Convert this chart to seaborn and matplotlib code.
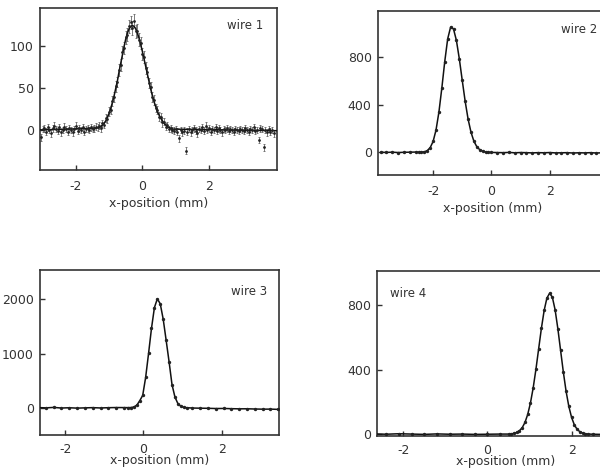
import numpy as np
import pandas as pd
import matplotlib
matplotlib.use("Agg")
import matplotlib.pyplot as plt
import seaborn as sns

# ---------------- data ----------------
# wire 1 : measured points (x in mm, signal)
w1_x = [-3.05, -3.0, -2.95, -2.9, -2.85, -2.8, -2.75, -2.7, -2.65, -2.6, -2.55, -2.5,
        -2.45, -2.4, -2.35, -2.3, -2.25, -2.2, -2.15, -2.1, -2.05, -2.0, -1.95, -1.9,
        -1.85, -1.8, -1.75, -1.7, -1.65, -1.6, -1.55, -1.5, -1.45, -1.4, -1.35,
        -1.3, -1.25, -1.2, -1.15, -1.1, -1.05, -1.0, -0.95, -0.9, -0.85, -0.8, -0.75,
        -0.7, -0.65, -0.6, -0.55, -0.5, -0.45, -0.4, -0.35, -0.3, -0.25, -0.2, -0.15,
        -0.1, -0.05, 0.0, 0.05, 0.1, 0.15, 0.2, 0.25, 0.3, 0.35, 0.4, 0.45, 0.5, 0.55,
        0.6, 0.65, 0.7, 0.75, 0.8,
        0.85, 0.9, 0.95, 1.0, 1.05, 1.1, 1.15, 1.2, 1.25, 1.3, 1.35, 1.4, 1.45, 1.5,
        1.55, 1.6, 1.65, 1.7, 1.75, 1.8, 1.85, 1.9, 1.95, 2.0, 2.05, 2.1, 2.15, 2.2,
        2.25, 2.3, 2.35, 2.4, 2.45, 2.5, 2.55, 2.6, 2.65, 2.7, 2.75, 2.8, 2.85, 2.9,
        2.95, 3.0, 3.05, 3.1, 3.15, 3.2, 3.25, 3.3, 3.35, 3.4, 3.45, 3.5, 3.55, 3.6,
        3.65, 3.7, 3.75, 3.8, 3.85, 3.9, 3.95]
w1_y = [-9, 1, 2, -2, 3, 0, -4, 2, 5, 1, -1, 3, -3, 0, 4, 1, -2, 2, 0, -3, 1, 5, -1, 2,
        0, 3, -2, 1, 2, 0, 3, 1, 2, 4, 3,
        5, 2, 8, 6, 14, 13, 22, 24, 35, 39, 52, 57, 72, 78, 93, 98, 111, 114, 124, 129,
        122, 131, 118, 119, 108, 104, 91, 87, 74, 69, 56, 51, 39, 36, 26, 24, 16, 15,
        9, 10, 4, 6, 1,
        2, 0, -1, 1, -2, -10, 0, -3, -1, -25, -2, 1, -3, 0, 2, -1, -4, 1, 0, 3,
        -1, 5, 0, 2, -2, 1, 0, 3, -1, 2, 0, -3, 1, 0, 2, -1, 1, 0, -2, 1,
        0, -1, 1, 0, -1, 2, 0, -2, 1, 0, 3, -1, 0, -12, 2, 1, -21, 0, -3, 1,
        -2, 0, -4]
w1_err_peak = [4, 4, 4, 4, 5, 5, 5, 5, 6, 6, 6, 6, 7, 7, 7, 7, 8, 8, 8, 8, 8, 8, 8, 8,
               8, 7, 7, 7, 7, 6, 6, 6, 6, 6, 5, 5, 5, 5, 5, 4, 4, 4, 4]
w1_err_base = 4
# wire 1 : fitted curve
w1_fit_x = [-3.1, -1.4, -1.3, -1.25, -1.2, -1.15, -1.1, -1.05, -1.0, -0.95, -0.9, -0.85,
            -0.8, -0.75, -0.7, -0.65, -0.6, -0.55, -0.5, -0.45, -0.4, -0.35, -0.3, -0.25,
            -0.2, -0.15, -0.1, -0.05, 0.0, 0.05, 0.1, 0.15, 0.2, 0.25, 0.3, 0.35, 0.4,
            0.45, 0.5, 0.55, 0.6, 0.65, 0.7, 0.75, 0.8, 0.9, 4.1]
w1_fit_y = [0, 2, 3, 4, 6, 8, 11, 15, 20, 26, 33, 41, 50, 59, 70, 80, 90, 100, 109, 116,
            121, 124, 125, 124, 121, 116, 110, 102, 94, 85, 76, 67, 58, 49, 41, 34, 28,
            22, 18, 14, 11, 8, 6, 4, 3, 1, -1]

# wire 2
w2_x = [-3.8, -3.6, -3.4, -3.2, -3.0, -2.8, -2.6,
        -2.5, -2.4, -2.3, -2.2, -2.1, -2.0, -1.9, -1.8, -1.7, -1.6, -1.5, -1.4, -1.3,
        -1.2, -1.1, -1.0, -0.9, -0.8, -0.7, -0.6, -0.5, -0.4, -0.3, -0.2, -0.1, 0.0,
        0.2, 0.4, 0.6, 0.8, 1.0, 1.2, 1.4, 1.6, 1.8, 2.0, 2.2, 2.4, 2.6, 2.8, 3.0, 3.2,
        3.4, 3.6, 3.8, 4.0]
w2_y = [1, 0, 2, -1, 1, 2, 3,
        2, 2, 5, 15, 40, 92, 188, 340, 542, 765, 955, 1054, 1039, 942, 787, 606, 430,
        281, 170, 94, 48, 23, 10, 4, 1, 0,
        -1, -2, 0, -3, -1, -2, -4, -2, -3, -1, -4, -3, -2, -5, -3, -4, -2, -5, -3, -4]

# wire 3
w3_x = [-2.7, -2.5, -2.3, -2.1, -1.9, -1.7, -1.5, -1.3, -1.1, -0.9, -0.7, -0.5,
        -0.395, -0.32, -0.245, -0.17, -0.095, -0.02, 0.055, 0.13, 0.205, 0.28, 0.355,
        0.43, 0.505, 0.58, 0.655, 0.73, 0.805, 0.88, 0.955, 1.03, 1.105,
        1.25, 1.45, 1.65, 1.85, 2.05, 2.25, 2.45, 2.65, 2.85, 3.05, 3.25, 3.45]
w3_y = [5, 0, 8, -3, 2, -5, 0, 4, -2, 3, 6, 5,
        4, 6, 16, 50, 132, 230, 560, 1003, 1466, 1848, 2010, 1915, 1633, 1246, 851,
        430, 200, 80, 30, 10, 3,
        -3, -6, -8, -12, -11, -15, -18, -17, -21, -24, -23, -28]

# wire 4
w4_x = [-2.7, -2.4, -2.1, -1.8, -1.5, -1.2, -0.9, -0.6, -0.3, 0.0, 0.3,
        0.5, 0.565, 0.63, 0.695, 0.76, 0.825, 0.89, 0.955, 1.02, 1.085, 1.15, 1.215,
        1.28, 1.345, 1.41, 1.475, 1.54, 1.605, 1.67, 1.735, 1.8, 1.865, 1.93, 1.995,
        2.06, 2.125, 2.19, 2.255, 2.32, 2.385,
        2.5, 2.7, 2.9, 3.1, 3.3, 3.5]
w4_y = [2, 0, 3, 1, -1, 2, 0, 1, -1, 0, 1,
        1, 2, 5, 11, 22, 41, 73, 123, 194, 288, 403, 531, 658, 768, 845, 875, 850, 772,
        655, 520, 386, 267, 173, 105, 59, 31, 16, 7, 3, 1,
        0, -1, 0, -2, -1, -2]

labels = ["wire 1", "wire 2", "wire 3", "wire 4"]
x_ticks = [-2, 0, 2]
y_ticks = [[0, 50, 100], [0, 400, 800], [0, 1000, 2000], [0, 400, 800]]
xlabel = "x-position (mm)"

# ---------------- style ----------------
sns.set_theme(style="ticks")
plt.rcParams.update({
    "font.family": ["DejaVu Sans"],
    "axes.unicode_minus": False,
    "xtick.direction": "in",
    "ytick.direction": "in",
    "xtick.major.size": 3.5,
    "ytick.major.size": 3.5,
    "xtick.major.width": 1.0,
    "ytick.major.width": 1.0,
    "xtick.major.pad": 7.0,
    "ytick.major.pad": 4.5,
    "xtick.labelsize": 9,
    "ytick.labelsize": 9,
    "xtick.color": "#333333",
    "ytick.color": "#333333",
    "axes.edgecolor": "#333333",
    "axes.linewidth": 1.2,
    "axes.labelcolor": "#333333",
    "text.color": "#333333",
})

fig = plt.figure(figsize=(6, 4.74), dpi=100)
positions = [
    [40 / 600, 304 / 474, 237 / 600, 162 / 474],
    [378 / 600, 299 / 474, 230 / 600, 164 / 474],
    [40 / 600, 39 / 474, 239 / 600, 165 / 474],
    [377 / 600, 38 / 474, 258 / 600, 165 / 474],
]
xlims = [(-3.08, 4.05), (-3.89, 4.0), (-2.65, 3.47), (-2.62, 3.5)]
ylims = [(-48, 146), (-190, 1190), (-500, 2540), (-11, 1013)]
label_pos = [(0.941, 0.895, "right"), (0.952, 0.89, "right"),
             (0.95, 0.867, "right"), (0.05, 0.861, "left")]
label_pads = [3.0, 3.0, -1.0, -1.0]
xtick_pads = [7.0, 7.0, 5.5, 5.5]

axes = [fig.add_axes(p) for p in positions]

# wire 1: points with error bars + fit
ax = axes[0]
w1_err = [w1_err_base] * 35 + w1_err_peak + [w1_err_base] * 63
ax.errorbar(w1_x, w1_y, yerr=w1_err, fmt="none", ecolor="#666666",
            elinewidth=0.6, capsize=0.8, capthick=0.6, zorder=2)
sns.lineplot(x=w1_fit_x, y=w1_fit_y, ax=ax, color="#111111", lw=1.1,
             estimator=None, zorder=3)
sns.scatterplot(x=w1_x, y=w1_y, ax=ax, color="#222222", s=4, linewidth=0,
                zorder=4)

for ax, xs, ys in [(axes[1], w2_x, w2_y), (axes[2], w3_x, w3_y), (axes[3], w4_x, w4_y)]:
    sns.lineplot(x=xs, y=ys, ax=ax, color="#111111", lw=1.1, estimator=None, zorder=3)
    sns.scatterplot(x=xs, y=ys, ax=ax, color="#222222", s=6, linewidth=0, zorder=4)

for i, ax in enumerate(axes):
    ax.set_xlim(*xlims[i])
    ax.set_ylim(*ylims[i])
    ax.set_xticks(x_ticks)
    ax.set_xticklabels([str(t) for t in x_ticks])
    ax.tick_params(axis="x", pad=xtick_pads[i])
    ax.set_yticks(y_ticks[i])
    ax.set_xlabel(xlabel, fontsize=9, labelpad=label_pads[i])
    ax.set_ylabel("")
    for s in ax.spines.values():
        s.set_visible(True)
    lx, ly, ha = label_pos[i]
    ax.text(lx, ly, labels[i], transform=ax.transAxes, ha=ha, va="center",
            fontsize=8.5, color="#333333")

fig.savefig("out.png", dpi=100)
